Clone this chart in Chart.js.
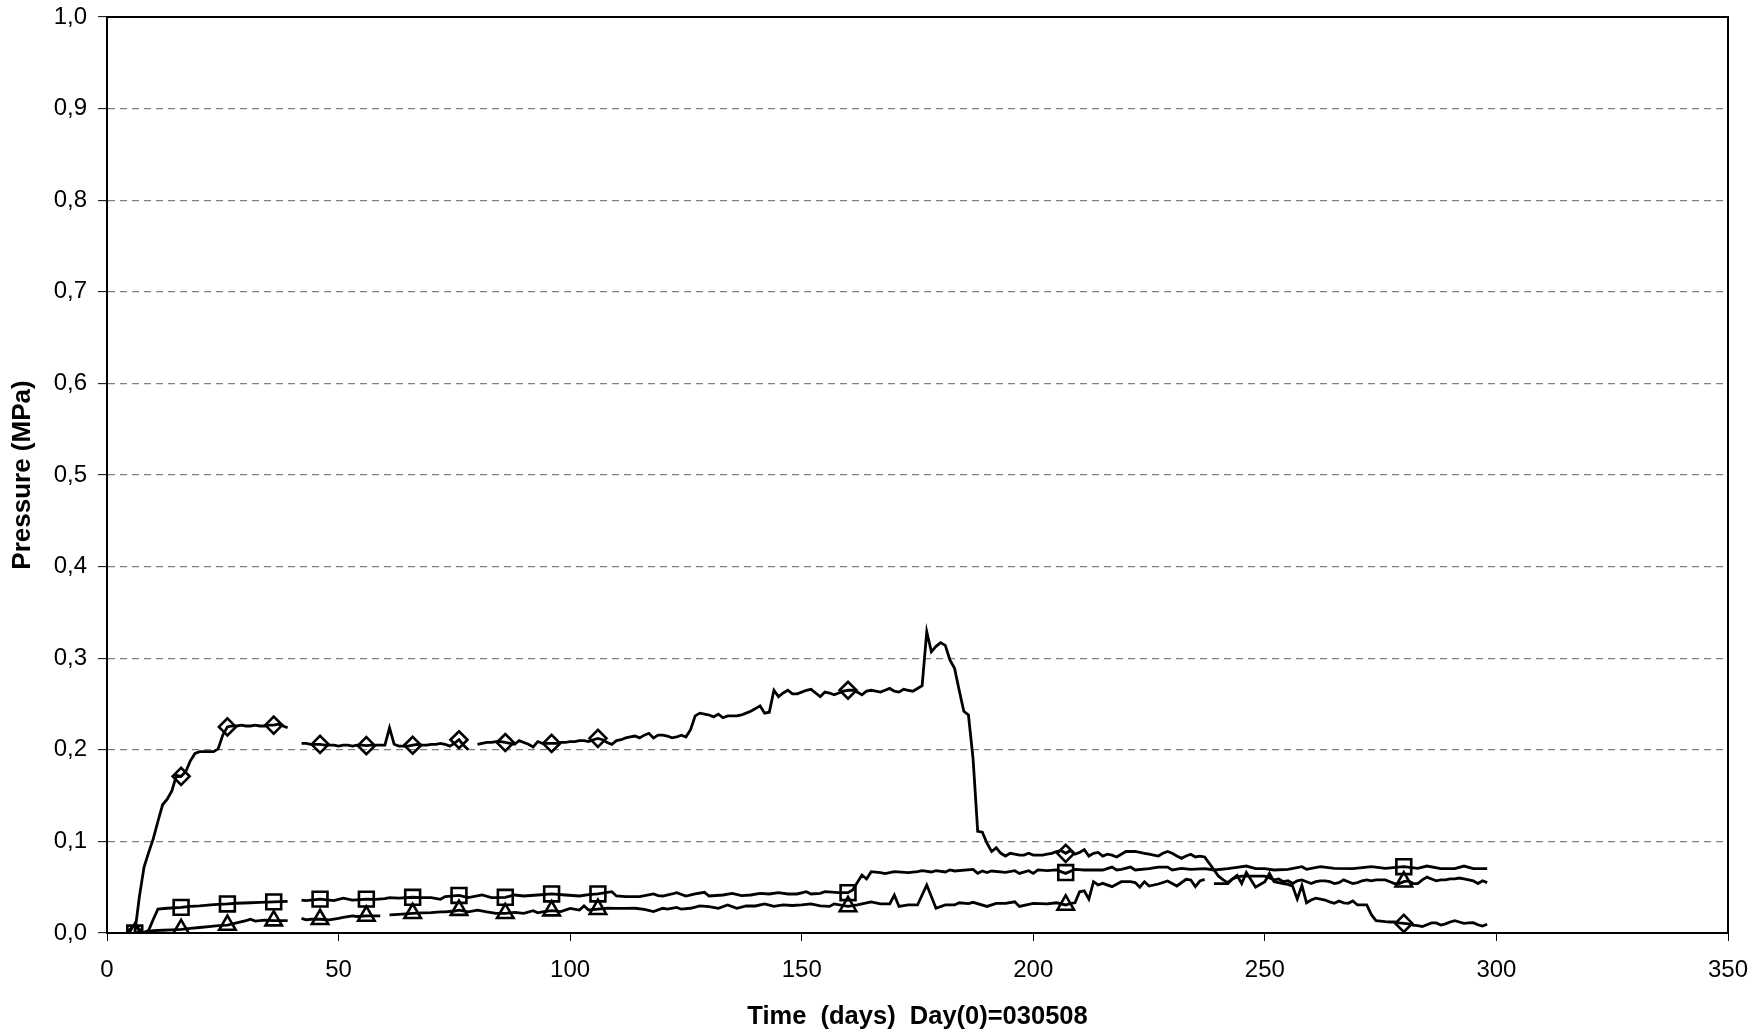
<!DOCTYPE html>
<html><head><meta charset="utf-8">
<script src="https://cdn.jsdelivr.net/npm/chart.js@4/dist/chart.umd.min.js"></script>
<style>html,body{margin:0;padding:0;background:#fff}#wrap{width:1756px;height:1035px}</style>
</head><body><div id="wrap"><canvas id="c" width="1756" height="1035"></canvas></div>
<script>
// ---- Diamond sensor (upper curve) ----
const diamondDays = [6,7,8,9,10,11,12,13,14,15,16,17,18,19,20,21,22,23,24,25,26,27,28,29,30,31,32,33,34,35,36,37,38,39,40,
42,43,44,45,46,47,48,49,50,51,52,53,54,55,56,57,58,59,60,61,62,63,64,65,66,67,68,69,70,71,72,73,74,75,76,77,78,79,
80,81,82,83,84,85,86,87,88,89,90,91,92,93,94,95,96,97,98,99,100,101,102,103,104,105,106,107,108,109,110,111,112,113,114,115,116,117,118,119,
120,121,122,123,124,125,126,127,128,129,130,131,132,133,134,135,136,137,138,139,140,141,142,143,144,145,146,147,148,149,150,151,152,153,154,155,156,157,158,159,
160,161,162,163,164,165,166,167,168,169,170,171,172,173,174,175,176,177,178,179,180,181,182,183,184,185,186,187,188,189,190,191,192,193,194,195,196,197,198,199,
200,201,202,203,204,205,206,207,208,209,210,211,212,213,214,215,216,217,218,219,220,221,222,223,224,225,226,227,228,229,230,231,232,233,234,235,236,237,238,239,
240,241,242,244,245,246,248,250,251,252,253,254,255,256,257,258,259,260,261,262,263,264,265,266,267,268,269,270,271,272,273,274,275,276,277,278,279,
280,281,282,283,284,285,286,287,288,289,290,291,292,293,294,295,296,297,298];
const diamondValues = [0,0.04,0.072,0.088,0.103,0.122,0.140,0.146,0.155,0.172,0.171,0.176,0.188,0.196,0.198,0.198,0.198,0.198,0.201,0.216,0.225,0.226,0.226,0.227,0.226,0.226,0.227,0.226,0.226,0.227,0.227,0.228,0.226,0.224,null,
0.207,0.207,0.206,0.206,0.206,0.205,0.205,0.205,0.204,0.205,0.205,0.204,0.205,0.205,0.2045,0.205,0.205,0.205,0.205,0.224,0.206,0.204,0.204,0.204,0.205,0.206,0.205,0.205,0.206,0.206,0.207,0.206,0.204,0.207,0.211,0.205,0.200,null,
0.206,0.207,0.208,0.208,0.209,0.209,0.208,0.207,0.206,0.210,0.208,0.206,0.203,0.209,0.207,0.207,0.207,0.207,0.208,0.208,0.209,0.209,0.210,0.210,0.209,0.211,0.2125,0.211,0.208,0.206,0.210,0.211,0.213,0.214,0.215,0.213,0.216,0.218,0.213,0.216,
0.216,0.215,0.213,0.214,0.216,0.214,0.222,0.237,0.240,0.239,0.238,0.236,0.239,0.235,0.237,0.237,0.237,0.238,0.240,0.242,0.245,0.248,0.240,0.241,0.265,0.258,0.262,0.265,0.261,0.261,0.263,0.265,0.266,0.262,0.258,0.263,0.262,0.260,0.262,0.264,
0.265,0.265,0.263,0.260,0.264,0.265,0.264,0.263,0.265,0.267,0.264,0.263,0.266,0.265,0.264,0.267,0.270,0.329,0.307,0.313,0.317,0.314,0.298,0.289,0.265,0.242,0.238,0.190,0.111,0.110,0.098,0.089,0.093,0.087,0.084,0.087,0.086,0.085,0.085,0.087,
0.085,0.085,0.085,0.086,0.087,0.089,0.090,0.087,0.090,0.086,0.088,0.091,0.084,0.087,0.088,0.084,0.086,0.085,0.083,0.086,0.089,0.089,0.089,0.088,0.087,0.086,0.085,0.084,0.087,0.089,0.087,0.084,0.0815,0.084,0.086,0.083,0.084,0.083,0.076,0.069,
0.062,0.058,0.055,0.063,0.054,0.066,0.050,0.056,0.065,0.056,0.055,0.054,0.053,0.051,0.037,0.052,0.033,0.036,0.038,0.037,0.036,0.034,0.0324,0.035,0.033,0.0324,0.035,0.0306,0.0306,0.0306,0.020,0.0135,0.013,0.0124,0.012,0.012,0.011,
0.0105,0.010,0.0087,0.008,0.007,0.009,0.011,0.011,0.0087,0.010,0.012,0.0135,0.012,0.0105,0.011,0.0113,0.009,0.0076,0.0095];

// ---- Square sensor (middle curve) ----
const squareDays = [6,8,9,10,11,13,16,18,20,23,26,28,31,33,36,39,40,
42,43,46,49,51,53,56,58,60,61,63,66,68,70,72,73,76,78,81,83,86,88,90,93,96,99,102,104,106,109,110,112,115,118,119,
120,122,123,125,127,129,130,133,135,137,139,141,143,145,147,149,151,152,154,155,158,
160,161,163,164,165,167,168,170,173,175,176,178,179,181,182,183,187,188,189,190,191,194,196,197,199,
200,201,203,205,207,209,211,215,217,218,219,221,222,225,227,229,230,232,234,237,239,
242,244,246,248,250,252,255,258,259,262,265,269,273,276,280,283,285,288,291,293,295,298];
const squareValues = [0,0,0.003,0.015,0.026,0.027,0.028,0.029,0.0295,0.031,0.0317,0.0325,0.033,0.0335,0.034,0.0346,null,
0.036,0.0353,0.037,0.0353,0.038,0.036,0.037,0.0368,0.0375,0.0386,0.038,0.039,0.0386,0.0386,0.0368,0.0397,0.041,0.0386,0.0415,0.0386,0.039,0.0415,0.0404,0.0415,0.0426,0.0415,0.0404,0.042,0.0426,0.0451,0.0404,0.0397,0.0397,0.0426,0.0408,
0.0404,0.0426,0.044,0.0404,0.0426,0.0444,0.0404,0.0415,0.0433,0.0408,0.0415,0.0433,0.0426,0.044,0.0426,0.0426,0.0451,0.0426,0.0433,0.0451,0.044,
0.044,0.047,0.0633,0.059,0.067,0.066,0.0648,0.067,0.066,0.067,0.068,0.0666,0.068,0.0666,0.0688,0.0677,0.0695,0.0651,0.0677,0.066,0.0677,0.0662,0.068,0.0651,0.068,
0.0651,0.0688,0.068,0.0688,0.0651,0.0695,0.0688,0.0688,0.072,0.0688,0.0695,0.072,0.0688,0.0702,0.072,0.072,0.0688,0.0706,0.0695,0.0702,0.0688,
0.0702,0.0717,0.0731,0.0702,0.0702,0.0688,0.0695,0.0724,0.0695,0.0724,0.0706,0.0702,0.0724,0.0706,0.0724,0.0706,0.0731,0.0702,0.0702,0.0731,0.0702,0.0702];

// ---- Triangle sensor (lower curve) ----
const triangleDays = [6,8,10,12,14,16,18,20,22,24,26,28,30,31,32,34,36,38,39,40,
42,43,44,46,48,50,51,53,54,56,58,59,60,
61,63,66,68,70,72,73,75,76,78,80,82,84,86,88,90,92,93,94,96,98,100,102,103,104,106,108,110,112,114,116,118,
120,121,123,124,126,128,130,132,134,136,138,140,142,144,146,148,150,152,154,156,157,
160,162,165,167,169,170,171,173,175,177,179,181,183,184,186,187,190,192,194,196,197,
200,203,205,207,208,209,210,211,212,213,214,215,217,219,221,222,223,224,225,227,229,231,233,234,235,236,237,238,
239,240,241,242,243,244,245,246,247,248,249,250,251,252,253,254,255,256,257,258,259,260,261,262,263,264,265,266,267,268,269,
270,271,272,273,274,275,276,277,278,279,280,281,282,283,284,285,286,287,288,289,290,291,292,293,294,295,296,297,298];
const triangleValues = [0,0.001,0.0025,0.003,0.0035,0.004,0.005,0.006,0.007,0.008,0.0087,0.011,0.0135,0.015,0.013,0.014,0.0135,0.0135,0.0135,null,
0.016,0.0143,0.015,0.015,0.0143,0.016,0.017,0.0186,0.018,0.0186,0.0186,0.0186,null,
0.0197,0.0204,0.0215,0.022,0.0222,0.023,0.023,0.024,0.025,0.023,0.025,0.023,0.0215,0.0215,0.0225,0.0215,0.0244,0.022,0.023,0.0244,0.0233,0.0269,0.0251,0.0295,0.0251,0.026,0.027,0.0269,0.0269,0.027,0.0258,0.0233,
0.027,0.026,0.028,0.026,0.027,0.0295,0.0288,0.027,0.0306,0.027,0.0295,0.0295,0.0317,0.029,0.0306,0.030,0.0306,0.0317,0.0295,0.029,0.0317,
0.029,0.0306,0.034,0.0317,0.0317,0.0415,0.029,0.0306,0.0306,0.0524,0.027,0.0306,0.0306,0.033,0.032,0.0335,0.029,0.0324,0.0324,0.034,0.029,
0.0324,0.0317,0.033,0.0306,0.0324,0.033,0.045,0.046,0.037,0.056,0.0524,0.0542,0.0506,0.056,0.056,0.055,0.050,0.056,0.0513,0.0535,0.0568,0.0513,0.0586,0.0579,0.0506,0.0568,0.0586,null,
0.054,0.054,0.054,0.054,0.059,0.061,0.062,0.062,0.062,0.062,0.062,0.062,0.060,0.058,0.059,0.056,0.057,0.054,0.057,0.058,0.056,0.054,0.056,0.057,0.057,0.056,0.054,0.055,0.058,0.056,0.054,
0.055,0.057,0.058,0.057,0.058,0.058,0.058,0.056,0.054,0.054,0.056,0.057,0.054,0.054,0.058,0.061,0.059,0.057,0.058,0.058,0.059,0.059,0.060,0.059,0.058,0.057,0.054,0.057,0.055];

// ---- Marker points ----
const markerDays = [6,16,26,36,46,56,66,76,86,96,106,160,207,280];
const diamondMarkers = [0,0.171,0.225,0.227,0.206,0.2045,0.205,0.211,0.208,0.207,0.2125,0.265,0.087,0.0105];
const squareMarkers = [0,0.028,0.0317,0.034,0.037,0.037,0.039,0.041,0.039,0.0426,0.0426,0.044,0.066,0.0724];
const triangleMarkers = [0,0.004,0.0087,0.0135,0.015,0.0186,0.0215,0.025,0.0215,0.0244,0.026,0.029,0.0306,0.056];

// ---- Axes ----
const xMin = 0, xMax = 350, xStep = 50;
const yMin = 0, yMax = 1.0, yStep = 0.1;
const xTitle = 'Time  (days)  Day(0)=030508';
const yTitle = 'Pressure (MPa)';

function pts(days, vals) { return days.map((d, i) => ({x: d, y: vals[i]})); }

const FONT = '"Liberation Sans", Arial, sans-serif';

const lineDs = (days, vals) => ({
  data: pts(days, vals), borderColor: '#000', borderWidth: 2.8, pointRadius: 0,
  tension: 0, spanGaps: false, fill: false
});
const markerDs = (days, vals, style, r) => ({
  data: pts(days, vals), showLine: false, pointStyle: style, pointRadius: r,
  pointBorderWidth: 2.6, pointBorderColor: '#000', pointBackgroundColor: 'rgba(0,0,0,0)',
  borderColor: '#000', backgroundColor: 'rgba(0,0,0,0)'
});

const frame = {
  id: 'frame',
  afterDatasetsDraw(chart) {
    const {ctx, chartArea: a} = chart;
    ctx.save();
    ctx.strokeStyle = '#000';
    ctx.lineWidth = 2;
    ctx.strokeRect(a.left, a.top, a.right - a.left, a.bottom - a.top);
    ctx.restore();
  }
};

new Chart(document.getElementById('c'), {
  type: 'line',
  data: {
    datasets: [
      lineDs(diamondDays, diamondValues),
      lineDs(squareDays, squareValues),
      lineDs(triangleDays, triangleValues),
      markerDs(markerDays, diamondMarkers, 'rectRot', 8.5),
      markerDs(markerDays, squareMarkers, 'rect', 10.5),
      markerDs(markerDays, triangleMarkers, 'triangle', 9.5)
    ]
  },
  options: {
    responsive: false, animation: false, devicePixelRatio: 1,
    layout: {padding: {top: 17, right: 28, left: 0, bottom: 0}},
    plugins: {legend: {display: false}, tooltip: {enabled: false}},
    scales: {
      x: {
        type: 'linear', min: xMin, max: xMax,
        ticks: {stepSize: xStep, color: '#000', padding: 15, font: {family: FONT, size: 24}, maxRotation: 0},
        grid: {drawOnChartArea: false, drawTicks: true, tickLength: 8, tickColor: '#000', tickWidth: 1},
        border: {display: true, color: '#000', width: 2},
        title: {display: true, text: xTitle, color: '#000', font: {family: FONT, size: 25.5, weight: 'bold'}, padding: {top: 0, bottom: 3}},
        afterFit(s) { s.height = 102; s.paddingLeft = 0; s.paddingRight = 0; }
      },
      y: {
        type: 'linear', min: yMin, max: yMax,
        ticks: {stepSize: yStep, color: '#000', padding: 11, font: {family: FONT, size: 24},
          callback: v => Number(v).toFixed(1).replace('.', ',')},
        grid: {
          color: c => (c.tick && (Math.abs(c.tick.value) < 1e-9 || Math.abs(c.tick.value - 1) < 1e-9)) ? 'rgba(0,0,0,0)' : '#808080',
          lineWidth: 1.3, drawTicks: true, tickLength: 9, tickColor: '#000', tickWidth: 1, tickBorderDash: []
        },
        border: {display: true, color: '#000', width: 2, dash: [7, 5]},
        title: {display: true, text: yTitle, color: '#000', font: {family: FONT, size: 26, weight: 'bold'}, padding: {top: 7, bottom: 0}},
        afterFit(s) { s.width = 107; s.paddingTop = 0; s.paddingBottom = 0; }
      }
    }
  },
  plugins: [frame]
});
</script></body></html>
